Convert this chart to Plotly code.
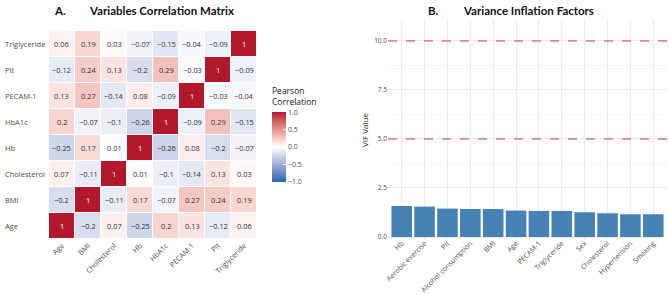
import numpy as np
import plotly.graph_objects as go

# ---------------- data ----------------
corr_vars = ["Age", "BMI", "Cholesterol", "Hb", "HbA1c", "PECAM-1", "Plt", "Triglyceride"]
corr_age = [1, -0.2, 0.07, -0.25, 0.2, 0.13, -0.12, 0.06]
corr_bmi = [-0.2, 1, -0.11, 0.17, -0.07, 0.27, 0.24, 0.19]
corr_chol = [0.07, -0.11, 1, 0.01, -0.1, -0.14, 0.13, 0.03]
corr_hb = [-0.25, 0.17, 0.01, 1, -0.26, 0.08, -0.2, -0.07]
corr_hba1c = [0.2, -0.07, -0.1, -0.26, 1, -0.09, 0.29, -0.15]
corr_pecam = [0.13, 0.27, -0.14, 0.08, -0.09, 1, -0.03, -0.04]
corr_plt = [-0.12, 0.24, 0.13, -0.2, 0.29, -0.03, 1, -0.09]
corr_trig = [0.06, 0.19, 0.03, -0.07, -0.15, -0.04, -0.09, 1]

vif_vars = ["Hb", "Aerobic exercise", "Plt", "Alcohol consumption", "BMI", "Age",
            "PECAM-1", "Triglyceride", "Sex", "Cholesterol", "Hypertension", "Smoking"]
vif_vals = [1.58, 1.55, 1.45, 1.43, 1.43, 1.35, 1.33, 1.33, 1.26, 1.21, 1.16, 1.16]
vif_thresholds = [5, 10]

cbar_ticks = [-1, -0.5, 0, 0.5, 1]
cbar_ticktext = ["\u22121.0", "\u22120.5", "0.0", "0.5", "1.0"]

z = [corr_age, corr_bmi, corr_chol, corr_hb, corr_hba1c, corr_pecam, corr_plt, corr_trig]

# ---------------- style helpers ----------------
W, H = 669, 294
FONT = "Open Sans"
TFONT = "Lato"
GREY = "#4D4D4D"


def hex2rgb(h):
    h = h.lstrip("#")
    return np.array([int(h[i:i + 2], 16) for i in (0, 2, 4)]) / 255.0


def srgb2lin(c):
    return np.where(c <= 0.04045, c / 12.92, ((c + 0.055) / 1.055) ** 2.4)


def lin2srgb(c):
    return np.where(c <= 0.0031308, 12.92 * c, 1.055 * np.power(np.clip(c, 0, None), 1 / 2.4) - 0.055)


M = np.array([[0.4124, 0.3576, 0.1805], [0.2126, 0.7152, 0.0722], [0.0193, 0.1192, 0.9505]])
Mi = np.linalg.inv(M)
WP = np.array([0.95047, 1.0, 1.08883])


def rgb2lab(rgb):
    xyz = M @ srgb2lin(rgb) / WP
    f = np.where(xyz > 0.008856, np.cbrt(xyz), 7.787 * xyz + 16 / 116)
    return np.array([116 * f[1] - 16, 500 * (f[0] - f[1]), 200 * (f[1] - f[2])])


def lab2rgb(lab):
    fy = (lab[0] + 16) / 116
    fx = fy + lab[1] / 500
    fz = fy - lab[2] / 200
    f = np.array([fx, fy, fz])
    xyz = np.where(f ** 3 > 0.008856, f ** 3, (f - 16 / 116) / 7.787) * WP
    rgb = np.clip(lin2srgb(Mi @ xyz), 0, 1)
    return "rgb(%d,%d,%d)" % tuple(np.round(rgb * 255).astype(int))


low, mid, high = rgb2lab(hex2rgb("#2166AC")), rgb2lab(hex2rgb("#FFFFFF")), rgb2lab(hex2rgb("#B2182B"))
cscale = []
for t in np.linspace(0, 1, 21):
    if t <= 0.5:
        s = t / 0.5
        lab = low + (mid - low) * s
    else:
        s = (t - 0.5) / 0.5
        lab = mid + (high - mid) * s
    cscale.append([float(t), lab2rgb(lab)])


def px_x(p):
    return p / W


def px_y(p):
    return 1 - p / H


fig = go.Figure()

fig.add_trace(go.Heatmap(
    x=corr_vars, y=corr_vars, z=z, zmin=-1, zmax=1,
    colorscale=cscale, xgap=1, ygap=1,
    xaxis="x", yaxis="y", hoverinfo="skip",
    colorbar=dict(
        title=dict(text="Pearson<br>Correlation", side="top",
                   font=dict(family=FONT, size=8.5, color="#222222")),
        x=px_x(272), xanchor="left", xpad=0, y=px_y(182), yanchor="bottom", ypad=0,
        len=97, lenmode="pixels", thickness=14, outlinewidth=0,
        tickvals=cbar_ticks, ticktext=cbar_ticktext,
        ticks="inside", ticklen=3, tickcolor="white",
        tickfont=dict(family=FONT, size=7, color=GREY),
    ),
))

fig.add_trace(go.Bar(
    x=vif_vars, y=vif_vals, xaxis="x2", yaxis="y2",
    marker=dict(color="#4682B4", line=dict(width=0)), width=0.9,
    hoverinfo="skip",
))

annotations = []
for i, row in enumerate(z):
    for j, v in enumerate(row):
        txt = f"{v:g}".replace("-", "\u2212")
        annotations.append(dict(
            x=corr_vars[j], y=corr_vars[i], xref="x", yref="y", text=txt,
            showarrow=False,
            font=dict(family=FONT, size=7.4, color="white" if v == 1 else "#333333"),
        ))
for name in corr_vars:
    annotations.append(dict(
        x=px_x(3), y=name, xref="paper", yref="y", xanchor="left", text=name,
        showarrow=False, font=dict(family=FONT, size=7.5, color=GREY),
    ))

# titles
annotations += [
    dict(x=px_x(52), y=px_y(10), xref="paper", yref="paper", xanchor="left", yanchor="middle",
         text="<b>A.</b>", showarrow=False, font=dict(family=TFONT, size=11.5, color="#111111")),
    dict(x=px_x(87), y=px_y(10), xref="paper", yref="paper", xanchor="left", yanchor="middle",
         text="<b>Variables Correlation Matrix</b>", showarrow=False,
         font=dict(family=TFONT, size=11.5, color="#111111")),
    dict(x=px_x(426), y=px_y(10), xref="paper", yref="paper", xanchor="left", yanchor="middle",
         text="<b>B.</b>", showarrow=False, font=dict(family=TFONT, size=11.5, color="#111111")),
    dict(x=px_x(461), y=px_y(10), xref="paper", yref="paper", xanchor="left", yanchor="middle",
         text="<b>Variance Inflation Factors</b>", showarrow=False,
         font=dict(family=TFONT, size=11.5, color="#111111")),
]

shapes = []
for th in vif_thresholds:
    shapes.append(dict(type="line", xref="x2 domain", yref="y2", x0=0, x1=1, y0=th, y1=th,
                       line=dict(color="#D03A3A", width=1, dash="dash")))

fig.update_layout(
    width=W, height=H, margin=dict(l=0, r=0, t=0, b=0, autoexpand=False),
    paper_bgcolor="white", plot_bgcolor="white", showlegend=False,
    font=dict(family=FONT, color=GREY),
    xaxis=dict(domain=[px_x(49), px_x(257)], anchor="y", tickangle=-45, showgrid=False,
               zeroline=False, ticks="", automargin=False,
               tickfont=dict(family=FONT, size=7.3, color=GREY)),
    yaxis=dict(domain=[px_y(239), px_y(31)], anchor="x", showgrid=False, zeroline=False,
               showticklabels=False, ticks="", automargin=False),
    xaxis2=dict(domain=[px_x(388), px_x(667)], anchor="y2", range=[-0.6, 11.6], tickangle=-45,
                showgrid=True, gridcolor="#EBEBEB", gridwidth=1, zeroline=False, ticks="",
                automargin=False, ticklabelstandoff=-3,
                tickfont=dict(family=FONT, size=7, color=GREY)),
    yaxis2=dict(domain=[px_y(240), px_y(20)], anchor="x2", range=[-0.153, 11.07],
                tick0=0, dtick=2.5, tickformat=".1f", showgrid=True, gridcolor="#EBEBEB",
                gridwidth=1, zeroline=False, ticks="", automargin=False,
                minor=dict(tick0=1.25, dtick=2.5, showgrid=True, gridcolor="#F5F5F5", gridwidth=0.6),
                tickfont=dict(family=FONT, size=6.5, color=GREY),
                title=dict(text="VIF Value", font=dict(family=FONT, size=8, color="#222222"),
                           standoff=4)),
    annotations=annotations, shapes=shapes,
)

fig.write_html("out.html", config={"displayModeBar": False},
               post_script="document.body.style.margin='0';document.body.style.padding='0';")
